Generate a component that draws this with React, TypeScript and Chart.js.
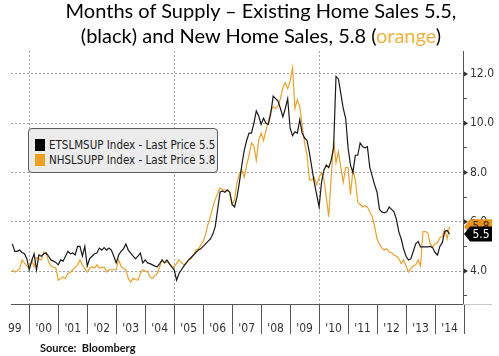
import React, { useEffect, useRef } from 'react';
import { Chart, registerables } from 'chart.js';

Chart.register(...registerables);

// Monthly data, June 1999 .. July 2014
const START_YEAR = 1999;
const START_MONTH_INDEX = 5; // June (0-based)

const existingSupply = [
  5.1, 4.8, 4.8, 4.85, 4.75, 4.7, 4.5,
  4.05, 4.4, 4.7, 4.05, 4.65, 4.6, 4.7, 4.73, 4.6, 4.45, 4.4, 4.35,
  4.25, 4.45, 4.4, 4.6, 4.8, 4.7, 4.73, 4.65, 5.0, 5.0, 4.6, 5.0,
  4.2, 4.5, 4.6, 4.7, 4.73, 4.93, 4.85, 4.95, 4.85, 4.93, 4.85, 4.6,
  4.33, 4.65, 4.8, 4.9, 5.1, 4.85, 4.73, 4.6, 4.5, 4.6, 4.73, 4.33,
  4.45, 4.33, 4.3, 4.25, 4.2, 4.17, 4.3, 4.45, 4.33, 4.45, 4.3, 4.17,
  4.05, 3.63, 3.9, 4.05, 4.2, 4.33, 4.45, 4.55, 4.65, 4.75, 4.85, 4.9,
  5.0, 5.1, 5.2, 5.3, 5.5, 5.8, 6.5, 7.2, 7.25, 7.2, 7.3, 7.2,
  6.7, 6.6, 7.0, 7.6, 8.3, 8.9, 9.3, 9.6, 9.6, 10.0, 10.5, 10.3,
  9.95, 10.2, 10.0, 9.95, 10.4, 11.1, 11.0, 10.9, 10.6, 10.26, 10.6, 11.0,
  9.8, 9.5, 9.65, 9.6, 10.15, 9.6, 9.4, 9.3, 8.8, 8.2, 7.6, 7.1,
  6.6, 7.6, 8.1, 8.3, 8.2, 8.5, 9.0, 11.9, 11.8, 11.2, 10.6, 10.2,
  9.0, 8.3, 8.0, 8.7, 8.7, 9.2, 9.05, 9.0, 9.05, 8.2, 7.85, 7.5,
  7.2, 6.5, 6.4, 6.36, 6.4, 6.6, 6.5, 6.4, 6.1, 5.6, 5.3, 4.9,
  4.6, 4.45, 4.5, 4.8, 5.1, 5.2, 4.98, 4.98, 4.98, 4.98, 5.0, 4.95,
  4.75, 4.65, 5.0, 5.15, 5.6, 5.65, 5.5,
];

const newSupply = [
  4.05, 3.96, 4.0, 4.1, 4.45, 4.33, 4.2,
  4.12, 4.45, 4.17, 4.55, 4.5, 4.45, 4.77, 4.73, 4.37, 4.2, 4.15, 4.12,
  3.63, 3.7, 3.76, 3.7, 3.9, 3.95, 4.05, 4.15, 4.25, 4.45, 4.25, 4.1,
  3.96, 4.1, 4.17, 4.12, 4.25, 4.12, 4.15, 4.17, 3.96, 4.05, 4.05, 4.05,
  4.05, 4.45, 4.2, 4.1, 4.05, 3.7, 3.55, 3.7, 3.65, 3.63, 3.9, 4.05,
  4.0, 3.96, 3.76, 3.7, 3.8, 3.9, 4.17, 4.45, 4.33, 4.37, 4.3, 4.17,
  4.17, 4.3, 4.45, 4.35, 4.25, 4.3, 4.45, 4.5, 4.65, 4.85, 4.9, 5.05,
  5.2, 5.5, 5.9, 6.2, 6.6, 6.9, 7.15, 7.37, 7.3, 7.3, 7.25, 7.2,
  6.7, 6.9, 7.6, 7.95, 8.1, 7.8, 8.3, 8.7, 9.2, 9.1, 8.5, 9.3,
  9.6, 9.3, 9.7, 10.1, 10.5, 10.67, 10.6, 10.7, 11.0, 11.45, 11.65, 11.4,
  11.7, 12.25, 10.6, 10.95, 10.67, 9.9, 9.2, 8.7, 7.7, 7.7, 7.8, 7.5,
  7.8, 8.0, 7.7, 7.0, 6.2, 7.8, 9.3, 8.4, 8.85, 8.2, 7.6, 8.2,
  8.2, 7.1, 8.1, 7.7, 6.8, 6.7, 6.6, 6.65, 6.6, 6.4, 6.2, 5.8,
  5.3, 5.1, 4.93, 4.85, 4.9, 4.77, 4.75, 4.65, 4.6, 4.5, 4.3, 4.45,
  4.2, 3.96, 4.1, 4.2, 4.25, 4.45, 4.2, 5.6, 5.6, 5.55, 5.1, 4.98,
  5.1, 5.15, 5.35, 5.4, 5.7, 5.3, 5.8,
];

const yearTicks = [1999, 2000, 2001, 2002, 2003, 2004, 2005, 2006, 2007, 2008, 2009, 2010, 2011, 2012, 2013, 2014, 2015];
const yearLabels = ['99', "'00", "'01", "'02", "'03", "'04", "'05", "'06", "'07", "'08", "'09", "'10", "'11", "'12", "'13", "'14", ''];
const gridYears = [2000, 2005, 2010];
const yTicks = [3, 4, 5, 6, 7, 8, 9, 10, 11, 12];
const yLabelTicks = [4, 6, 8, 10, 12];
const lastExisting = 5.5;
const lastNew = 5.8;

const seriesNames = ['ETSLMSUP Index - Last Price 5.5', 'NHSLSUPP Index - Last Price 5.8'];
const BLACK = '#1a1a1a';
const ORANGE = '#eba22c';
const AXIS_FONT = "'DejaVu Sans Condensed', 'Liberation Sans Narrow', sans-serif";

function toPoints(values: number[]) {
  return values.map((v, i) => ({ x: START_YEAR + (START_MONTH_INDEX + i) / 12, y: v }));
}

const overlayPlugin = {
  id: 'overlay',
  afterDraw(chart: any) {
    const { ctx, chartArea, scales } = chart;
    const y = scales.y;
    ctx.save();
    ctx.strokeStyle = '#c8c8c8';
    ctx.lineWidth = 1;
    ctx.beginPath();
    ctx.moveTo(chartArea.right, Math.round(chartArea.bottom) + 0.5);
    ctx.lineTo(492, Math.round(chartArea.bottom) + 0.5);
    ctx.stroke();
    ctx.fillStyle = '#333';
    yLabelTicks.forEach((v) => {
      const py = y.getPixelForValue(v);
      ctx.beginPath();
      ctx.moveTo(chartArea.right + 1, py - 2.5);
      ctx.lineTo(chartArea.right + 5, py);
      ctx.lineTo(chartArea.right + 1, py + 2.5);
      ctx.closePath();
      ctx.fill();
    });
    const drawBox = (value: number, fill: string, textColor: string) => {
      const py = y.getPixelForValue(value);
      const x0 = chartArea.right + 1;
      const h = 7.5;
      ctx.fillStyle = fill;
      ctx.beginPath();
      ctx.moveTo(x0, py);
      ctx.lineTo(x0 + 6, py - h);
      ctx.lineTo(492, py - h);
      ctx.lineTo(492, py + h);
      ctx.lineTo(x0 + 6, py + h);
      ctx.closePath();
      ctx.fill();
      ctx.fillStyle = textColor;
      ctx.font = `12px ${AXIS_FONT}`;
      ctx.textAlign = 'center';
      ctx.textBaseline = 'middle';
      ctx.fillText(value.toFixed(1), 481, py + 0.5);
    };
    drawBox(lastNew, '#e8941c', '#3a2a00');
    drawBox(lastExisting, '#000000', '#ffffff');
    ctx.restore();
  },
};

export default function App() {
  const canvasRef = useRef<HTMLCanvasElement | null>(null);

  useEffect(() => {
    const canvas = canvasRef.current;
    if (!canvas) return;
    const chart = new Chart(canvas, {
      type: 'line',
      data: {
        datasets: [
          {
            label: seriesNames[0],
            data: toPoints(existingSupply),
            borderColor: BLACK,
            borderWidth: 1.2,
            pointRadius: 0,
            tension: 0,
            fill: false,
          },
          {
            label: seriesNames[1],
            data: toPoints(newSupply),
            borderColor: ORANGE,
            borderWidth: 1.2,
            pointRadius: 0,
            tension: 0,
            fill: false,
          },
        ],
      },
      options: {
        responsive: false,
        animation: false,
        layout: { padding: { left: 11, top: 51, right: 0, bottom: 0 } },
        plugins: {
          legend: { display: false },
          tooltip: { enabled: false },
          title: { display: false },
        },
        scales: {
          x: {
            type: 'linear',
            min: 1999.37,
            max: 2014.965,
            afterBuildTicks: (s: any) => {
              s.ticks = yearTicks.map((v) => ({ value: v }));
            },
            afterFit: (s: any) => {
              s.height = 52;
            },
            ticks: {
              autoSkip: false,
              maxRotation: 0,
              labelOffset: 14.5,
              padding: -12,
              color: '#333',
              font: { family: AXIS_FONT, size: 12 },
              callback: (value: any) => {
                const i = yearTicks.indexOf(Number(value));
                return i >= 0 ? yearLabels[i] : '';
              },
            },
            grid: {
              color: (c: any) => (c.tick && gridYears.includes(c.tick.value) ? '#a8a8a8' : 'rgba(0,0,0,0)'),
              lineWidth: 1,
              tickLength: 30,
              tickWidth: 1,
              tickColor: (c: any) => (c.tick && c.tick.value === 1999 ? 'rgba(0,0,0,0)' : '#555'),
            },
            border: { display: true, color: '#555', width: 1, dash: [2, 2] },
          },
          y: {
            type: 'linear',
            position: 'right',
            min: 2.66,
            max: 12.934,
            afterBuildTicks: (s: any) => {
              s.ticks = yTicks.map((v) => ({ value: v }));
            },
            afterFit: (s: any) => {
              s.width = 36;
            },
            ticks: {
              autoSkip: false,
              padding: 3,
              color: '#333',
              font: { family: AXIS_FONT, size: 12 },
              callback: (value: any) => (yLabelTicks.includes(Number(value)) ? Number(value).toFixed(1) : ''),
            },
            grid: {
              color: (c: any) => (c.tick && yLabelTicks.includes(c.tick.value) ? '#a0a0a0' : 'rgba(0,0,0,0)'),
              lineWidth: 1,
              tickLength: 4,
              tickColor: '#555',
            },
            border: { display: true, color: '#555', width: 1, dash: [2, 2] },
          },
        },
      },
      plugins: [overlayPlugin],
    } as any);
    return () => chart.destroy();
  }, []);

  const titleStyle: React.CSSProperties = {
    position: 'absolute',
    left: 23,
    width: 476,
    textAlign: 'center',
    fontFamily: 'Lato, "Open Sans", sans-serif',
    fontSize: 20,
    lineHeight: '25px',
    color: '#000',
    whiteSpace: 'nowrap',
  };

  const legendRow = (top: number, color: string, text: string): React.ReactNode => (
    <div style={{ position: 'absolute', left: 0, top, height: 14, width: 190 }}>
      <div style={{ position: 'absolute', left: 6, top: 1, width: 10, height: 12, background: color }} />
      <div
        style={{
          position: 'absolute',
          left: 20,
          top: 0,
          fontFamily: AXIS_FONT,
          fontSize: 11.5,
          lineHeight: '14px',
          color: '#222',
          whiteSpace: 'nowrap',
        }}
      >
        {text}
      </div>
    </div>
  );

  return (
    <div style={{ position: 'absolute', left: 0, top: 0, width: 499, height: 356, background: '#fff', overflow: 'hidden' }}>
      <canvas ref={canvasRef} width={499} height={356} style={{ position: 'absolute', left: 0, top: 0, width: 499, height: 356 }} />
      <div style={{ ...titleStyle, top: -2 }}>Months of Supply – Existing Home Sales 5.5,</div>
      <div style={{ ...titleStyle, top: 23 }}>
        (black) and New Home Sales, 5.8 (<span style={{ color: '#f2b33d' }}>orange</span>)
      </div>
      <div
        style={{
          position: 'absolute',
          left: 28,
          top: 128,
          width: 190,
          height: 45,
          boxSizing: 'border-box',
          background: '#ececec',
          border: '1px solid #5a5a5a',
          borderRadius: 4,
        }}
      >
        {legendRow(9, '#000', seriesNames[0])}
        {legendRow(24, '#f0a020', seriesNames[1])}
      </div>
      <div
        style={{
          position: 'absolute',
          left: 40,
          top: 341,
          fontFamily: 'Lato, "Open Sans", sans-serif',
          fontWeight: 700,
          fontSize: 11,
          lineHeight: '13px',
          color: '#111',
          whiteSpace: 'pre',
        }}
      >
        {'Source:  Bloomberg'}
      </div>
    </div>
  );
}
